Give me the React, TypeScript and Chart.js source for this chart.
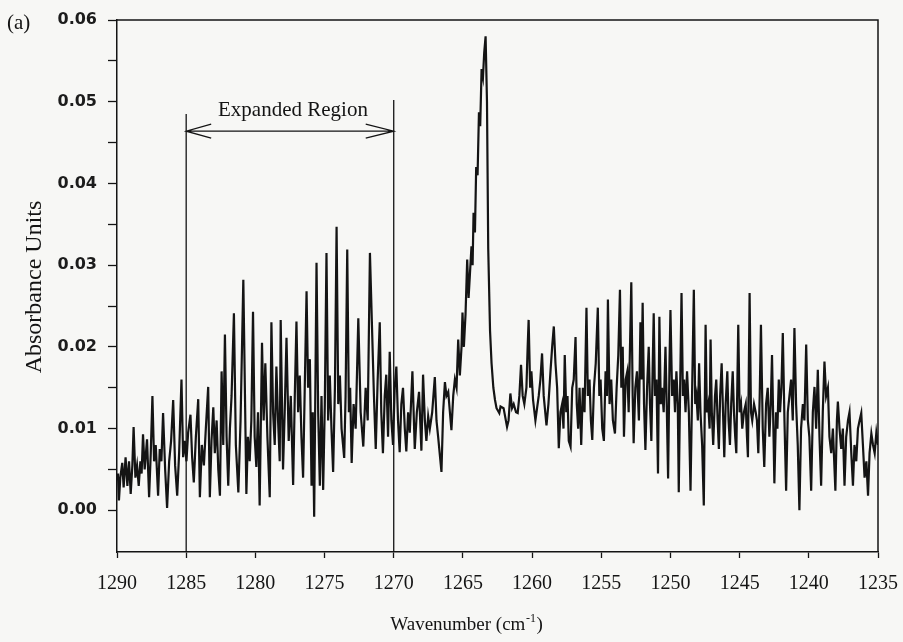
import React, { useEffect, useRef } from "react";
import { Chart, registerables } from "chart.js";

Chart.register(...registerables);

const panelLabel = "(a)";
const yAxisTitle = "Absorbance Units";
const xAxisTitleMain = "Wavenumber (cm";
const xAxisTitleSup = "-1";
const xAxisTitleEnd = ")";
const regionLabel = "Expanded Region";
const regionBounds = [1285, 1270];

const xTickValues = [1290, 1285, 1280, 1275, 1270, 1265, 1260, 1255, 1250, 1245, 1240, 1235];
const yTickValues = [0, 0.005, 0.01, 0.015, 0.02, 0.025, 0.03, 0.035, 0.04, 0.045, 0.05, 0.055, 0.06];
const yLabelledTicks = [0, 0.01, 0.02, 0.03, 0.04, 0.05, 0.06];

// [wavenumber (cm-1), absorbance]
const spectrum: [number, number][] = [
  [1290.0, 0.0038], [1289.93, 0.0045], [1289.86, 0.0012], [1289.76, 0.004], [1289.62, 0.0058], [1289.52, 0.0028],
  [1289.38, 0.0065], [1289.25, 0.003], [1289.13, 0.006], [1289.01, 0.002], [1288.89, 0.0055], [1288.8, 0.0102],
  [1288.67, 0.004], [1288.55, 0.0055], [1288.43, 0.003], [1288.31, 0.006], [1288.22, 0.0045], [1288.12, 0.0093],
  [1288.0, 0.005], [1287.83, 0.0087], [1287.68, 0.0016], [1287.56, 0.007], [1287.44, 0.014], [1287.32, 0.006],
  [1287.2, 0.008], [1287.03, 0.0018], [1286.91, 0.0075], [1286.79, 0.006], [1286.67, 0.0119], [1286.52, 0.005],
  [1286.38, 0.0003], [1286.23, 0.006], [1286.09, 0.0085], [1285.94, 0.0135], [1285.8, 0.0055], [1285.65, 0.0018],
  [1285.51, 0.007], [1285.34, 0.016], [1285.22, 0.0065], [1285.1, 0.0085], [1284.98, 0.006], [1284.86, 0.0095],
  [1284.69, 0.0117], [1284.57, 0.0065], [1284.45, 0.0034], [1284.3, 0.009], [1284.13, 0.0136], [1284.01, 0.0016],
  [1283.87, 0.008], [1283.72, 0.0055], [1283.58, 0.01], [1283.41, 0.0151], [1283.29, 0.0016], [1283.17, 0.0085],
  [1283.04, 0.0126], [1282.93, 0.007], [1282.8, 0.011], [1282.68, 0.005], [1282.56, 0.0018], [1282.44, 0.017],
  [1282.32, 0.008], [1282.2, 0.0215], [1282.08, 0.009], [1281.96, 0.003], [1281.84, 0.01], [1281.72, 0.014],
  [1281.55, 0.0241], [1281.41, 0.008], [1281.23, 0.0022], [1281.07, 0.011], [1280.87, 0.0282],
  [1280.65, 0.002], [1280.54, 0.009], [1280.41, 0.006], [1280.29, 0.011], [1280.17, 0.0243], [1280.05, 0.009],
  [1279.93, 0.0053], [1279.81, 0.012], [1279.69, 0.0006], [1279.52, 0.0205], [1279.4, 0.011], [1279.28, 0.018],
  [1279.13, 0.009], [1278.96, 0.0016], [1278.84, 0.023], [1278.72, 0.012], [1278.6, 0.008], [1278.48, 0.0176],
  [1278.36, 0.011], [1278.24, 0.006], [1278.17, 0.0233], [1278.0, 0.005], [1277.88, 0.012], [1277.75, 0.0211],
  [1277.59, 0.0085], [1277.44, 0.014], [1277.27, 0.0031], [1277.15, 0.014], [1277.03, 0.0231], [1276.91, 0.012],
  [1276.79, 0.0165], [1276.67, 0.009], [1276.55, 0.004], [1276.43, 0.015], [1276.3, 0.0268], [1276.19, 0.015],
  [1276.06, 0.0185], [1275.94, 0.003], [1275.85, 0.012], [1275.75, -0.0008], [1275.58, 0.0303], [1275.46, 0.012],
  [1275.34, 0.003], [1275.22, 0.014], [1275.1, 0.0025], [1274.98, 0.013], [1274.86, 0.0315], [1274.74, 0.011],
  [1274.62, 0.0165], [1274.5, 0.01], [1274.38, 0.0047], [1274.25, 0.015], [1274.13, 0.0347], [1274.01, 0.013],
  [1273.89, 0.0165], [1273.77, 0.01], [1273.58, 0.0064], [1273.48, 0.014], [1273.36, 0.0319], [1273.24, 0.012],
  [1273.15, 0.015], [1273.04, 0.0058], [1272.9, 0.013], [1272.75, 0.01], [1272.56, 0.0235], [1272.39, 0.012],
  [1272.2, 0.0078], [1272.03, 0.015], [1271.88, 0.011], [1271.72, 0.0315],
  [1271.43, 0.014], [1271.3, 0.0075], [1271.16, 0.016], [1271.01, 0.023], [1270.9, 0.012], [1270.78, 0.007],
  [1270.65, 0.014], [1270.54, 0.0166], [1270.41, 0.009], [1270.29, 0.0194], [1270.17, 0.011], [1270.05, 0.008],
  [1269.93, 0.015], [1269.81, 0.0176], [1269.69, 0.011], [1269.57, 0.0071], [1269.45, 0.013], [1269.33, 0.015],
  [1269.2, 0.01], [1269.09, 0.0072], [1268.96, 0.012], [1268.84, 0.0095], [1268.65, 0.017], [1268.48, 0.0075],
  [1268.33, 0.012], [1268.17, 0.0145], [1268.0, 0.0073], [1267.88, 0.0166], [1267.75, 0.011], [1267.64, 0.0085],
  [1267.51, 0.0115], [1267.39, 0.01], [1267.22, 0.012], [1267.03, 0.0163], [1266.91, 0.011], [1266.79, 0.009],
  [1266.55, 0.0047], [1266.43, 0.012], [1266.3, 0.0157], [1266.19, 0.014], [1266.06, 0.0145], [1265.94, 0.012],
  [1265.83, 0.0098], [1265.7, 0.014], [1265.58, 0.016], [1265.46, 0.015], [1265.34, 0.0209], [1265.22, 0.0165],
  [1265.1, 0.02], [1265.03, 0.0242], [1264.93, 0.02], [1264.81, 0.024], [1264.69, 0.0307], [1264.59, 0.026],
  [1264.49, 0.029], [1264.38, 0.0323], [1264.3, 0.03], [1264.23, 0.0364], [1264.13, 0.034], [1264.04, 0.042],
  [1263.94, 0.041], [1263.84, 0.0487], [1263.75, 0.047], [1263.65, 0.054], [1263.55, 0.053], [1263.46, 0.056],
  [1263.36, 0.058], [1263.26, 0.05], [1263.17, 0.032], [1263.04, 0.022], [1262.93, 0.018], [1262.8, 0.015],
  [1262.68, 0.0135], [1262.57, 0.0125], [1262.37, 0.0119],
  [1262.28, 0.0127], [1262.06, 0.0125], [1261.81, 0.0102], [1261.7, 0.011], [1261.57, 0.0143], [1261.45, 0.0125],
  [1261.33, 0.013], [1261.16, 0.012], [1261.04, 0.0119], [1260.92, 0.014], [1260.8, 0.0178], [1260.68, 0.014],
  [1260.56, 0.013], [1260.41, 0.015], [1260.32, 0.02], [1260.25, 0.0233], [1260.14, 0.015], [1260.05, 0.017],
  [1259.93, 0.0135], [1259.76, 0.011], [1259.64, 0.0125], [1259.52, 0.014], [1259.4, 0.016], [1259.28, 0.0192],
  [1259.16, 0.014], [1258.96, 0.0104], [1258.82, 0.013], [1258.67, 0.017], [1258.55, 0.02], [1258.43, 0.0225],
  [1258.31, 0.018], [1258.19, 0.015], [1258.07, 0.0076], [1257.95, 0.012], [1257.83, 0.013], [1257.73, 0.01],
  [1257.64, 0.019], [1257.53, 0.012], [1257.44, 0.014], [1257.35, 0.0085], [1257.22, 0.0078], [1257.1, 0.015],
  [1256.99, 0.016], [1256.86, 0.0212], [1256.77, 0.013], [1256.67, 0.01], [1256.57, 0.015], [1256.45, 0.008],
  [1256.33, 0.015], [1256.21, 0.012], [1256.07, 0.0248], [1255.97, 0.014], [1255.85, 0.016], [1255.75, 0.011],
  [1255.65, 0.0086], [1255.53, 0.015], [1255.4, 0.018], [1255.25, 0.0248], [1255.14, 0.014], [1255.05, 0.016],
  [1254.93, 0.01], [1254.81, 0.0085], [1254.69, 0.017], [1254.59, 0.014], [1254.52, 0.0258], [1254.4, 0.013],
  [1254.28, 0.016], [1254.16, 0.011], [1254.01, 0.0094], [1253.89, 0.015], [1253.77, 0.019], [1253.65, 0.027],
  [1253.55, 0.015], [1253.45, 0.02], [1253.36, 0.009], [1253.24, 0.016], [1253.12, 0.017], [1253.02, 0.012],
  [1252.83, 0.0279], [1252.73, 0.014], [1252.66, 0.0082], [1252.54, 0.015], [1252.42, 0.017], [1252.28, 0.011],
  [1252.17, 0.023], [1252.09, 0.016], [1252.01, 0.0254], [1251.91, 0.013], [1251.81, 0.0074], [1251.69, 0.015],
  [1251.57, 0.02], [1251.48, 0.013], [1251.38, 0.0085], [1251.28, 0.018], [1251.21, 0.0241], [1251.12, 0.014],
  [1251.01, 0.016], [1250.9, 0.0045], [1250.8, 0.0237], [1250.7, 0.013], [1250.61, 0.015], [1250.49, 0.012],
  [1250.36, 0.02], [1250.27, 0.013], [1250.17, 0.0039], [1250.07, 0.018], [1250.0, 0.0245], [1249.88, 0.014],
  [1249.76, 0.016], [1249.67, 0.012], [1249.57, 0.017], [1249.47, 0.013], [1249.4, 0.0022], [1249.3, 0.015],
  [1249.2, 0.0266], [1249.1, 0.014], [1249.01, 0.016], [1248.91, 0.012], [1248.8, 0.017], [1248.67, 0.012],
  [1248.55, 0.0024], [1248.43, 0.015], [1248.31, 0.027], [1248.21, 0.013], [1248.12, 0.014], [1248.02, 0.011],
  [1247.93, 0.018], [1247.83, 0.012], [1247.71, 0.008], [1247.59, 0.0006], [1247.46, 0.0227], [1247.37, 0.012],
  [1247.27, 0.013], [1247.17, 0.01], [1247.1, 0.0209], [1247.01, 0.012], [1246.91, 0.008], [1246.78, 0.014],
  [1246.69, 0.016], [1246.59, 0.011], [1246.5, 0.0075], [1246.41, 0.014], [1246.3, 0.018], [1246.2, 0.012],
  [1246.11, 0.0065], [1246.01, 0.013], [1245.89, 0.017], [1245.8, 0.011], [1245.7, 0.008], [1245.61, 0.013],
  [1245.5, 0.017], [1245.41, 0.012], [1245.32, 0.009], [1245.24, 0.007], [1245.17, 0.015], [1245.1, 0.0227],
  [1245.0, 0.012], [1244.9, 0.013], [1244.81, 0.01], [1244.69, 0.012], [1244.56, 0.013], [1244.47, 0.009],
  [1244.4, 0.0065], [1244.28, 0.0266], [1244.18, 0.012], [1244.09, 0.011], [1243.96, 0.013], [1243.84, 0.012],
  [1243.75, 0.011], [1243.65, 0.007], [1243.55, 0.014], [1243.46, 0.0227], [1243.33, 0.01], [1243.22, 0.0053],
  [1243.09, 0.013], [1242.97, 0.015], [1242.85, 0.009], [1242.75, 0.013], [1242.66, 0.019], [1242.56, 0.01],
  [1242.49, 0.0033], [1242.37, 0.012], [1242.27, 0.01], [1242.17, 0.016], [1242.08, 0.012], [1241.98, 0.015],
  [1241.88, 0.0217], [1241.76, 0.011], [1241.64, 0.0024], [1241.52, 0.012], [1241.4, 0.014], [1241.28, 0.016],
  [1241.16, 0.011], [1241.04, 0.0223], [1240.92, 0.013], [1240.8, 0.008], [1240.68, 0.0], [1240.56, 0.01],
  [1240.43, 0.013], [1240.32, 0.011], [1240.19, 0.0203], [1240.07, 0.011], [1239.96, 0.009], [1239.83, 0.0024],
  [1239.71, 0.012], [1239.59, 0.0151], [1239.47, 0.01], [1239.35, 0.0172], [1239.23, 0.009], [1239.11, 0.003],
  [1238.99, 0.012], [1238.87, 0.0182], [1238.75, 0.014], [1238.62, 0.015], [1238.51, 0.009], [1238.38, 0.007],
  [1238.26, 0.01], [1238.08, 0.0024], [1237.97, 0.011], [1237.9, 0.0133], [1237.78, 0.01], [1237.66, 0.0075],
  [1237.54, 0.01], [1237.42, 0.003], [1237.3, 0.009], [1237.17, 0.011], [1237.06, 0.012], [1236.93, 0.007],
  [1236.81, 0.003], [1236.7, 0.008], [1236.57, 0.006], [1236.45, 0.01], [1236.33, 0.011], [1236.21, 0.0119],
  [1236.09, 0.008], [1235.97, 0.004], [1235.84, 0.006], [1235.72, 0.0018], [1235.61, 0.007], [1235.48, 0.0094],
  [1235.36, 0.008], [1235.24, 0.007], [1235.12, 0.0095], [1235.0, 0.008],
];

const INK = "#141414";
const SERIF = '"Liberation Serif", "Times New Roman", serif';
const SANS = '"DejaVu Sans", "Liberation Sans", sans-serif';

const decorPlugin = {
  id: "decor",
  afterDraw(chart: any) {
    const { ctx, chartArea: a, scales } = chart;
    const xs = scales.x;
    const ys = scales.y;
    ctx.save();
    ctx.strokeStyle = INK;
    ctx.fillStyle = INK;
    ctx.lineWidth = 1.5;
    ctx.beginPath();
    ctx.moveTo(a.left, a.top);
    ctx.lineTo(a.right, a.top);
    ctx.lineTo(a.right, a.bottom);
    ctx.stroke();

    // expanded region markers
    const x1 = xs.getPixelForValue(regionBounds[0]);
    const x2 = xs.getPixelForValue(regionBounds[1]);
    ctx.lineWidth = 1.3;
    ctx.beginPath();
    ctx.moveTo(x1, ys.getPixelForValue(0.0485));
    ctx.lineTo(x1, a.bottom);
    ctx.moveTo(x2, ys.getPixelForValue(0.0502));
    ctx.lineTo(x2, a.bottom);
    ctx.stroke();
    const ay = ys.getPixelForValue(0.0464);
    ctx.beginPath();
    ctx.moveTo(x1, ay);
    ctx.lineTo(x2, ay);
    ctx.moveTo(x1 + 25, ay - 7);
    ctx.lineTo(x1, ay);
    ctx.lineTo(x1 + 25, ay + 7);
    ctx.moveTo(x2 - 28, ay - 7);
    ctx.lineTo(x2, ay);
    ctx.lineTo(x2 - 28, ay + 7);
    ctx.stroke();
    ctx.font = `21px ${SERIF}`;
    ctx.textAlign = "center";
    ctx.textBaseline = "alphabetic";
    ctx.fillText(regionLabel, (x1 + x2) / 2 + 3, ay - 15);

    // panel label
    ctx.textAlign = "left";
    ctx.font = `21px ${SERIF}`;
    ctx.fillText(panelLabel, 7, 29);

    // y title
    ctx.save();
    ctx.translate(41, 287);
    ctx.rotate(-Math.PI / 2);
    ctx.textAlign = "center";
    ctx.font = `24px ${SERIF}`;
    ctx.fillText(yAxisTitle, 0, 0);
    ctx.restore();

    // x title with superscript
    const cx = (a.left + a.right) / 2 - 31;
    const by = 630;
    ctx.font = `19px ${SERIF}`;
    const w1 = ctx.measureText(xAxisTitleMain).width;
    const w3 = ctx.measureText(xAxisTitleEnd).width;
    ctx.font = `12px ${SERIF}`;
    const w2 = ctx.measureText(xAxisTitleSup).width;
    const start = cx - (w1 + w2 + w3 + 1) / 2;
    ctx.textAlign = "left";
    ctx.font = `19px ${SERIF}`;
    ctx.fillText(xAxisTitleMain, start, by);
    ctx.font = `12px ${SERIF}`;
    ctx.fillText(xAxisTitleSup, start + w1 + 0.5, by - 8);
    ctx.font = `19px ${SERIF}`;
    ctx.fillText(xAxisTitleEnd, start + w1 + w2 + 1, by);
    ctx.restore();
  },
};

export default function App() {
  const ref = useRef<HTMLCanvasElement | null>(null);
  useEffect(() => {
    if (!ref.current) return;
    const chart = new Chart(ref.current, {
      type: "line",
      data: {
        datasets: [
          {
            data: spectrum.map(([x, y]) => ({ x, y })),
            borderColor: INK,
            borderWidth: 2.2,
            pointRadius: 0,
            tension: 0,
            fill: false,
          },
        ],
      },
      options: {
        animation: false,
        responsive: false,
        devicePixelRatio: 1,
        layout: { padding: { top: 20, right: 25, left: 0, bottom: 0 } },
        plugins: { legend: { display: false }, tooltip: { enabled: false }, title: { display: false } },
        scales: {
          x: {
            type: "linear",
            reverse: true,
            min: 1235,
            max: 1290,
            afterFit: (s: any) => {
              s.height = 90;
              s.paddingLeft = 0;
              s.paddingRight = 0;
            },
            afterBuildTicks: (s: any) => {
              s.ticks = xTickValues.map((value) => ({ value }));
            },
            ticks: {
              autoSkip: false,
              maxRotation: 0,
              color: INK,
              padding: 14,
              font: { family: SERIF, size: 20 },
              callback: (v: any) => String(v),
            },
            grid: { drawOnChartArea: false, drawTicks: true, tickLength: 6, tickColor: INK, tickWidth: 1.3 },
            border: { display: true, color: INK, width: 1.5 },
          },
          y: {
            type: "linear",
            min: -0.0051,
            max: 0.06,
            afterFit: (s: any) => {
              s.width = 117;
              s.paddingTop = 0;
              s.paddingBottom = 0;
            },
            afterBuildTicks: (s: any) => {
              s.ticks = yTickValues.map((value) => ({ value }));
            },
            ticks: {
              autoSkip: false,
              color: "#1c1c1c",
              padding: 11,
              font: { family: SANS, size: 16, weight: "bold" },
              callback: (v: any) => {
                const n = Number(v);
                return yLabelledTicks.some((t) => Math.abs(t - n) < 1e-6) ? n.toFixed(2) : "";
              },
            },
            grid: { drawOnChartArea: false, drawTicks: true, tickLength: 9, tickColor: INK, tickWidth: 1.3 },
            border: { display: true, color: INK, width: 1.5 },
          },
        },
      },
      plugins: [decorPlugin],
    } as any);
    return () => chart.destroy();
  }, []);
  return (
    <div style={{ position: "absolute", left: 0, top: 0, width: 903, height: 642, background: "#f7f7f5" }}>
      <canvas ref={ref} width={903} height={642} style={{ display: "block" }} />
    </div>
  );
}
